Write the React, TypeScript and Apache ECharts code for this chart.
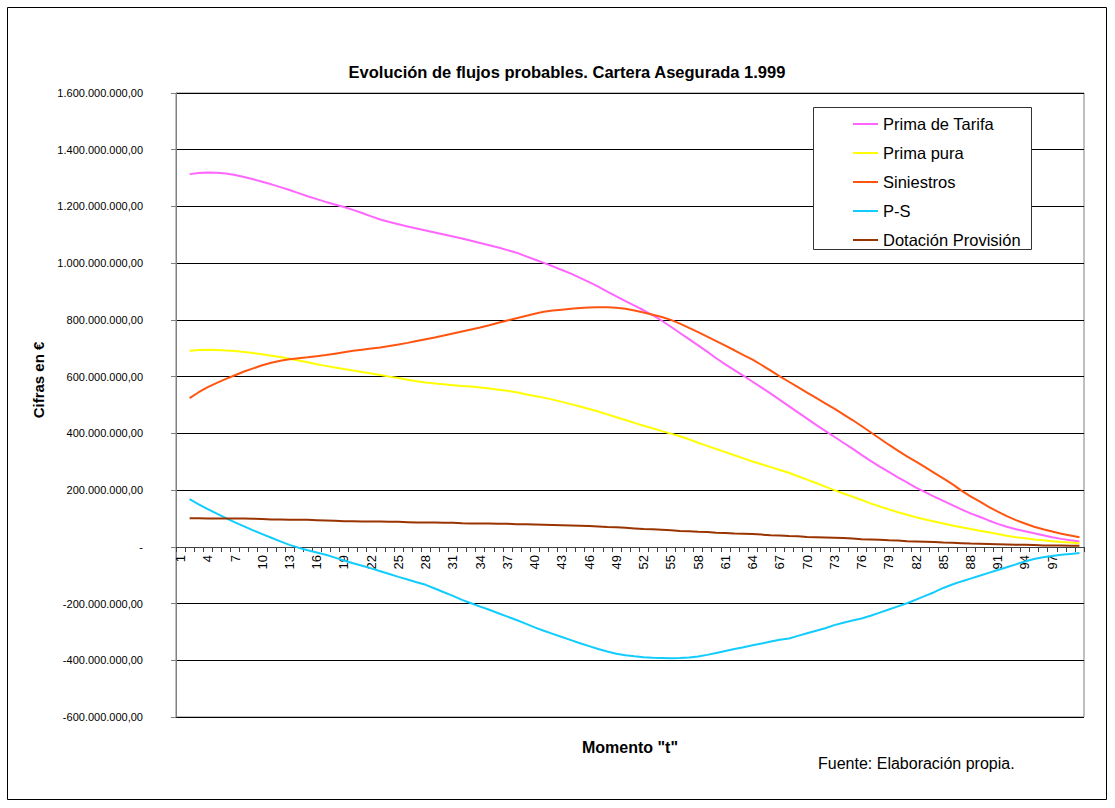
import React, { useEffect, useRef } from "react";
import * as echarts from "echarts";

// Categories: momento t = 1..100 (first category has no data)
const categories: string[] = Array.from({ length: 100 }, (_, i) => String(i + 1));

// Values in millions of €, for t = 2..100
const primaTarifa = [
  1314, 1318, 1320, 1319, 1316, 1311, 1304, 1296, 1287, 1278, 1268, 1258, 1247, 1236, 1226, 1216, 1207, 1198, 1188,
  1177, 1165, 1154, 1145, 1137, 1129, 1122, 1115, 1108, 1101, 1094, 1087, 1079, 1071, 1063, 1055, 1046, 1037, 1025,
  1013, 1001, 989, 976, 963, 948, 933, 917, 900, 883, 866, 850, 834, 817, 797, 776, 754, 732, 710, 688, 665, 643, 623,
  603, 582, 561, 540, 518, 496, 474, 452, 430, 409, 388, 367, 346, 324, 303, 283, 264, 245, 227, 209, 193, 177, 162,
  147, 132, 118, 106, 93, 81, 71, 62, 55, 48, 41, 34, 28, 23, 19,
];
const primaPura = [
  691, 694, 695, 694, 692, 690, 687, 683, 679, 674, 669, 663, 657, 651, 644, 638, 632, 627, 622, 616, 611, 606, 600,
  595, 589, 584, 579, 576, 573, 570, 567, 565, 562, 558, 554, 550, 545, 538, 532, 526, 519, 511, 503, 495, 486, 477,
  467, 457, 447, 437, 427, 418, 408, 399, 390, 379, 367, 356, 345, 334, 323, 312, 301, 291, 281, 271, 261, 249, 237,
  225, 212, 200, 188, 177, 165, 153, 142, 132, 122, 113, 104, 96, 89, 82, 75, 69, 63, 57, 51, 45, 39, 34, 30, 26, 23,
  20, 17, 15, 13,
];
const siniestros = [
  524, 545, 563, 578, 592, 605, 618, 629, 640, 649, 656, 661, 665, 668, 672, 676, 681, 686, 691, 695, 699, 703, 708,
  713, 719, 726, 732, 738, 745, 752, 759, 766, 773, 781, 790, 798, 806, 814, 822, 829, 833, 836, 839, 842, 844, 845,
  845, 843, 839, 833, 826, 818, 810, 800, 787, 772, 757, 741, 725, 709, 693, 676, 660, 641, 621, 601, 582, 563, 544,
  525, 506, 487, 467, 447, 426, 404, 382, 360, 339, 319, 300, 281, 261, 241, 221, 198, 178, 160, 141, 124, 108, 94,
  82, 71, 62, 54, 46, 40, 34,
];
const pMenosS = [
  168, 150, 133, 117, 101, 86, 72, 58, 45, 32, 19, 7, -3, -12, -20, -28, -38, -48, -58, -67, -76, -86, -96, -106,
  -115, -125, -134, -147, -160, -173, -187, -199, -211, -222, -234, -246, -258, -271, -284, -296, -307, -318, -329,
  -340, -350, -360, -369, -377, -382, -386, -389, -391, -392, -393, -392, -390, -387, -381, -374, -367, -360, -354,
  -347, -341, -334, -328, -323, -314, -305, -296, -287, -276, -268, -260, -253, -243, -232, -221, -210, -199, -186,
  -173, -160, -145, -133, -122, -112, -102, -92, -82, -72, -62, -52, -43, -37, -32, -28, -25, -22,
];
const dotacionProvision = [
  101, 101, 100, 100, 100, 100, 100, 99, 98, 96, 96, 95, 95, 95, 94, 93, 92, 90, 90, 89, 89, 89, 88, 88, 87, 86, 86,
  86, 85, 85, 83, 82, 82, 82, 81, 81, 80, 80, 79, 78, 77, 76, 75, 74, 73, 72, 70, 69, 67, 65, 63, 62, 60, 58, 56, 55,
  53, 52, 50, 49, 47, 46, 45, 43, 41, 40, 38, 37, 35, 34, 33, 32, 31, 29, 27, 26, 25, 23, 22, 20, 19, 18, 17, 15, 14,
  13, 12, 11, 10, 9, 8, 7, 7, 6, 5, 5, 5, 4, 4,
];

const seriesNames = ["Prima de Tarifa", "Prima pura", "Siniestros", "P-S", "Dotación Provisión"];
const seriesColors = ["#FF66FF", "#FFFF00", "#FF5511", "#11CCFF", "#993300"];
const seriesValues = [primaTarifa, primaPura, siniestros, pMenosS, dotacionProvision];

const FONT = 'Arial, "Liberation Sans", sans-serif';

function fmtEs(v: number): string {
  if (v === 0) return "-";
  const s = Math.abs(Math.round(v))
    .toString()
    .replace(/\B(?=(\d{3})+(?!\d))/g, ".");
  return (v < 0 ? "-" : "") + s + ",00";
}

export default function App() {
  const ref = useRef<HTMLDivElement>(null);
  useEffect(() => {
    if (!ref.current) return;
    const chart = echarts.init(ref.current, undefined, { renderer: "svg" });
    const series = seriesNames.map((name, i) => ({
      name,
      type: "line",
      data: [null, ...seriesValues[i].map((v) => v * 1e6)],
      showSymbol: false,
      symbol: "none",
      lineStyle: { color: seriesColors[i], width: 2 },
      itemStyle: { color: seriesColors[i] },
      z: 3,
    }));
    chart.setOption({
      animation: false,
      backgroundColor: "#ffffff",
      grid: {
        left: 176,
        top: 93,
        width: 908,
        height: 624,
        show: true,
        borderColor: "#808080",
        borderWidth: 1,
        containLabel: false,
        outerBoundsMode: "none",
      },
      xAxis: {
        type: "category",
        data: categories,
        boundaryGap: true,
        position: "bottom",
        offset: -170,
        name: 'Momento "t"',
        nameLocation: "middle",
        nameGap: 192,
        nameTextStyle: { fontFamily: FONT, fontSize: 16, fontWeight: "bold", color: "#000" },
        axisLine: { onZero: false, lineStyle: { color: "#404040", width: 1 } },
        axisTick: { show: true, interval: 0, length: 5, lineStyle: { color: "#404040" } },
        axisLabel: {
          rotate: 90,
          fontFamily: FONT,
          fontSize: 13,
          color: "#000",
          margin: 8,
          interval: (index: number) => index % 3 === 0 && index < 99,
        },
        splitLine: { show: false },
      },
      yAxis: {
        type: "value",
        min: -600e6,
        max: 1600e6,
        interval: 200e6,
        axisLine: { show: true, lineStyle: { color: "#808080" } },
        axisTick: { show: true, length: 5, lineStyle: { color: "#808080" } },
        axisLabel: {
          fontFamily: FONT,
          fontSize: 11,
          color: "#000",
          margin: 33,
          formatter: (v: number) => fmtEs(v),
        },
        splitLine: { show: true, lineStyle: { color: "#000", width: 1 } },
      },
      legend: {
        data: seriesNames,
        orient: "vertical",
        left: 853,
        top: 114,
        icon: "rect",
        itemWidth: 25,
        itemHeight: 2,
        itemGap: 9,
        padding: 0,
        z: 20,
        textStyle: { fontFamily: FONT, fontSize: 16.5, color: "#000", lineHeight: 20 },
      },
      graphic: [
        {
          type: "rect",
          z: 0,
          silent: true,
          shape: { x: 7.5, y: 7.5, width: 1099, height: 792 },
          style: { fill: "none", stroke: "#000", lineWidth: 1 },
        },
        {
          type: "rect",
          z: 15,
          silent: true,
          shape: { x: 813.5, y: 107.5, width: 218, height: 142 },
          style: { fill: "#fff", stroke: "#333", lineWidth: 1 },
        },
        {
          type: "text",
          z: 10,
          x: 567,
          y: 72,
          style: {
            text: "Evolución de flujos probables. Cartera Asegurada 1.999",
            fontFamily: FONT,
            fontSize: 16.5,
            fontWeight: "bold",
            fill: "#000",
            align: "center",
            verticalAlign: "middle",
          },
        },
        {
          type: "text",
          z: 10,
          x: 38,
          y: 380,
          rotation: Math.PI / 2,
          style: {
            text: "Cifras en €",
            fontFamily: FONT,
            fontSize: 15,
            fontWeight: "bold",
            fill: "#000",
            align: "center",
            verticalAlign: "middle",
          },
        },
        {
          type: "text",
          z: 10,
          x: 818,
          y: 763,
          style: {
            text: "Fuente: Elaboración propia.",
            fontFamily: FONT,
            fontSize: 16,
            fill: "#000",
            align: "left",
            verticalAlign: "middle",
          },
        },
      ],
      series,
    });
    return () => chart.dispose();
  }, []);
  return (
    <div
      ref={ref}
      style={{ position: "absolute", left: 0, top: 0, width: 1115, height: 808 }}
    />
  );
}
